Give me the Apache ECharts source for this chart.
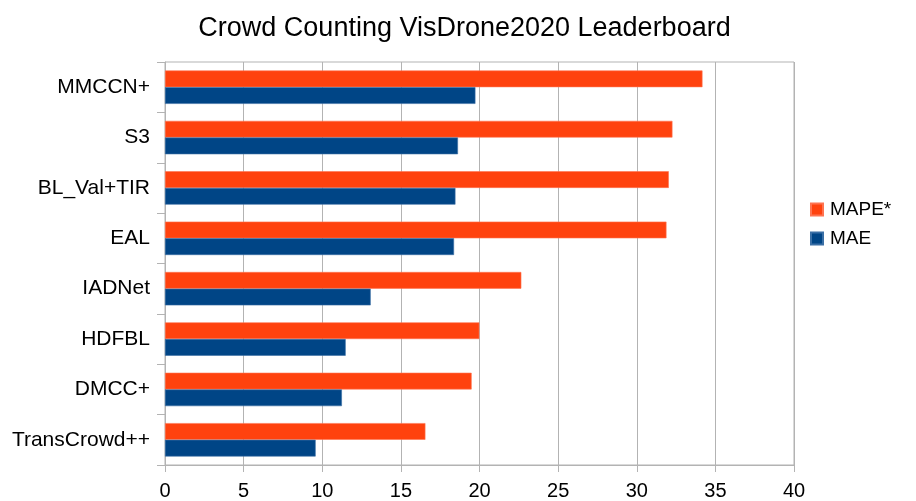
<!DOCTYPE html>
<html>
<head>
<meta charset="utf-8">
<script src="https://cdn.jsdelivr.net/npm/echarts@6/dist/echarts.min.js"></script>
<style>
  html, body { margin: 0; padding: 0; background: #fff; }
  #chart { width: 916px; height: 501px; }
</style>
</head>
<body>
<div id="chart"></div>
<script>
// Leaderboard entries, listed top to bottom
const methods = ['MMCCN+', 'S3', 'BL_Val+TIR', 'EAL', 'IADNet', 'HDFBL', 'DMCC+', 'TransCrowd++'];
const mape = [34.18, 32.27, 32.04, 31.89, 22.66, 19.99, 19.5, 16.56];
const mae = [19.74, 18.63, 18.47, 18.38, 13.08, 11.49, 11.25, 9.58];
const xTicks = [0, 5, 10, 15, 20, 25, 30, 35, 40];

const FONT = '"Liberation Sans", Arial, sans-serif';
const chart = echarts.init(document.getElementById('chart'), null, { renderer: 'canvas' });

chart.setOption({
  animation: false,
  backgroundColor: '#ffffff',
  title: {
    text: 'Crowd Counting VisDrone2020 Leaderboard',
    left: 459.5, top: 10, textAlign: 'center',
    textStyle: { fontFamily: FONT, fontSize: 27, fontWeight: 'normal', color: '#000' }
  },
  legend: {
    orient: 'vertical',
    left: 805, top: 195,
    itemWidth: 12, itemHeight: 12, itemGap: 10,
    icon: 'rect',
    textStyle: { fontFamily: FONT, fontSize: 19, color: '#000', padding: [0, 0, 0, 2] },
    data: ['MAPE*', 'MAE']
  },
  grid: {
    left: 165, right: 122, top: 62, bottom: 35,
    show: true, borderColor: '#b3b3b3', borderWidth: 1
  },
  xAxis: {
    type: 'value',
    min: xTicks[0], max: xTicks[xTicks.length - 1], interval: 5,
    axisLine: { show: true, lineStyle: { color: '#b3b3b3' } },
    axisTick: { show: true, length: 7, lineStyle: { color: '#b3b3b3' } },
    axisLabel: { fontFamily: FONT, fontSize: 20, color: '#000', margin: 16 },
    splitLine: { show: true, lineStyle: { color: '#b3b3b3', width: 1 } }
  },
  yAxis: {
    type: 'category',
    inverse: true,
    data: methods,
    axisLine: { show: true, lineStyle: { color: '#b3b3b3' } },
    axisTick: { show: true, length: 8, lineStyle: { color: '#b3b3b3' } },
    axisLabel: { fontFamily: FONT, fontSize: 21, color: '#000', margin: 15 },
    splitLine: { show: false }
  },
  series: [
    {
      name: 'MAPE*', type: 'bar', data: mape,
      barWidth: 16.7, barGap: '0%',
      itemStyle: { color: '#ff420e', borderColor: '#ff7350', borderWidth: 0.6 }
    },
    {
      name: 'MAE', type: 'bar', data: mae,
      barWidth: 16.7, barGap: '0%',
      itemStyle: { color: '#004586', borderColor: '#3a6fa5', borderWidth: 0.6 }
    }
  ]
});
</script>
</body>
</html>
